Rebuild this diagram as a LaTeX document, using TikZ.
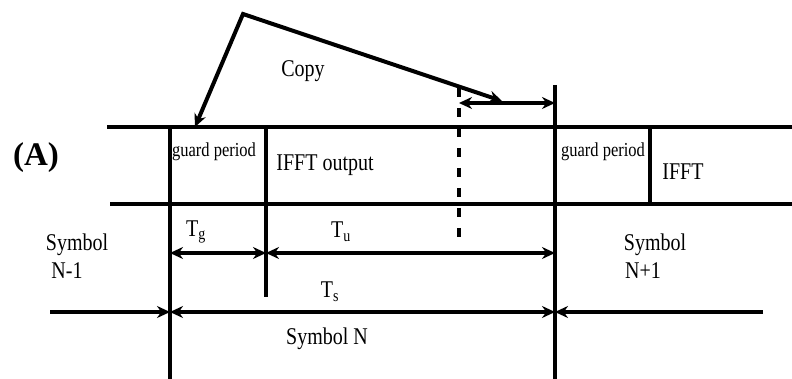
\documentclass[tikz,border=0pt]{standalone}
\usepackage{graphicx}
\usepackage{fontspec}
\setmainfont{Liberation Serif}
\usetikzlibrary{arrows.meta, positioning}
\newcommand{\tall}[1]{\scalebox{1}[1.2]{#1}}

\begin{document}
\begin{tikzpicture}[x=1pt, y=-1pt, line width=3.5pt,
    tip/.style={-{Stealth[length=13pt,width=12pt]}},
    bothtip/.style={{Stealth[length=13pt,width=12pt]}-{Stealth[length=13pt,width=12pt]}},
    lbl/.style={font=\fontsize{20}{24}\selectfont, inner sep=0pt},
    small/.style={font=\fontsize{16.5}{18}\selectfont, inner sep=0pt}]
  \useasboundingbox (0,0) rectangle (792,379);

  % Borders of the symbol row
  \coordinate (topL) at (107,127);
  \coordinate (topR) at (792,127);
  \coordinate (botL) at (110,204);
  \coordinate (botR) at (792,204);
  \draw (topL) -- (topR);
  \draw (botL) -- (botR);

  % Boundaries
  \coordinate (gAt) at (170,127);  \coordinate (gAb) at (170,379);
  \coordinate (fAt) at (266,127);  \coordinate (fAb) at (266,297);
  \coordinate (gBt) at (555,85);   \coordinate (gBb) at (555,379);
  \coordinate (fBt) at (650,127);  \coordinate (fBb) at (650,204);
  \coordinate (cpt) at (459,88);   \coordinate (cpb) at (459,240);
  \draw (gAt) -- (gAb);
  \draw (fAt) -- (fAb);
  \draw (gBt) -- (gBb);
  \draw (fBt) -- (fBb);
  \draw[dash pattern=on 9pt off 11pt] (cpt) -- (cpb);

  % Copy of the tail into the guard period
  \coordinate (peak) at (243,14);
  \coordinate (src) at (502,101);
  \coordinate (dst) at (195,127);
  \draw[bothtip, line width=4pt] (src) -- (peak) -- (dst);
  \coordinate (cpL) at (459,103);
  \coordinate (cpR) at (555,103);
  \draw[bothtip] (cpL) -- (cpR);

  % Durations
  \coordinate (tgL) at (170,253); \coordinate (tgR) at (266,253);
  \coordinate (tuR) at (555,253);
  \coordinate (tsL) at (170,312); \coordinate (tsR) at (555,312);
  \coordinate (inL) at (50,312);  \coordinate (inR) at (763,312);
  \draw[bothtip] (tgL) -- (tgR);
  \draw[bothtip] (tgR) -- (tuR);
  \draw[bothtip] (tsL) -- (tsR);
  \draw[tip] (inL) -- (tsL);
  \draw[tip] (inR) -- (tsR);

  % Labels
  \node[font=\bfseries\fontsize{33}{36}\selectfont, inner sep=0pt] (lblA) at (36,158) {(A)};
  \node[lbl] (copy) at (303,71) {\tall{Copy}};
  \node[small] (gp1) at (214,152) {\tall{guard period}};
  \node[lbl] (ifft1) at (325,165) {\tall{IFFT output}};
  \node[small] (gp2) at (603,152) {\tall{guard period}};
  \node[lbl] (ifft2) at (683,172) {\tall{IFFT}};
  \node[lbl] (symA1) at (77,245) {\tall{Symbol}};
  \node[lbl] (symA2) at (67,271) {\tall{N-1}};
  \node[lbl] (symC1) at (655,245) {\tall{Symbol}};
  \node[lbl] (symC2) at (643,271) {\tall{N+1}};
  \node[lbl] (tg) at (196,232) {\tall{T\textsubscript{g}}};
  \node[lbl] (tu) at (341,232) {\tall{T\textsubscript{u}}};
  \node[lbl] (ts) at (330,292) {\tall{T\textsubscript{s}}};
  \node[lbl] (symB) at (327,339) {\tall{Symbol N}};
\end{tikzpicture}
\end{document}
